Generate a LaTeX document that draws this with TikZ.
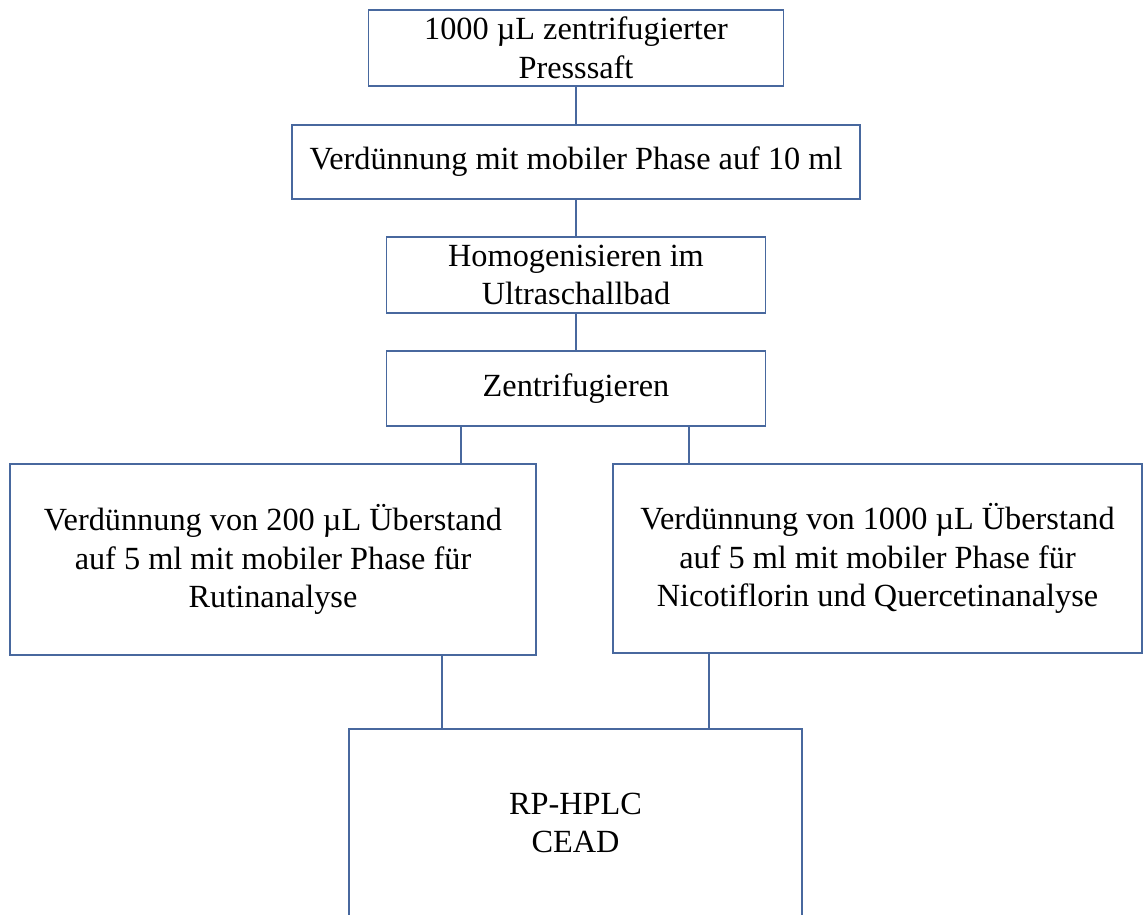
\documentclass[tikz,border=0pt]{standalone}
\usepackage{fontspec}
\setmainfont{Liberation Serif}
\definecolor{boxline}{RGB}{72,104,158}
\begin{document}
\begin{tikzpicture}[x=1pt,y=-1pt,
  stepbox/.style={draw=boxline, line width=1.1pt, align=center, inner sep=0pt,
    font=\fontsize{32.3}{38.5}\selectfont},
  link/.style={draw=boxline, line width=1.1pt}]
\useasboundingbox (0,0) rectangle (1143,914);
\clip (0,0) rectangle (1143,914);

% process steps
\node[stepbox, minimum width=415, minimum height=76] (a) at (576,48)
  {1000 µL zentrifugierter\\Presssaft};
\node[stepbox, minimum width=568, minimum height=74] (b) at (576,162)
  {Verdünnung mit mobiler Phase auf 10 ml};
\node[stepbox, minimum width=379, minimum height=76] (c) at (576,275)
  {Homogenisieren im\\Ultraschallbad};
\node[stepbox, minimum width=379, minimum height=75] (d) at (576,388.5)
  {Zentrifugieren};
\node[stepbox, minimum width=526, minimum height=191] (e) at (273,559.5)
  {Verdünnung von 200 µL Überstand\\auf 5 ml mit mobiler Phase für\\Rutinanalyse};
\node[stepbox, minimum width=529, minimum height=189] (f) at (877.5,558.5)
  {Verdünnung von 1000 µL Überstand\\auf 5 ml mit mobiler Phase für\\Nicotiflorin und Quercetinanalyse};
\node[stepbox, minimum width=453, minimum height=188] (g) at (575.5,823)
  {RP-HPLC\\CEAD};

% connectors
\draw[link] (a.south) -- (b.north);
\draw[link] (b.south) -- (c.north);
\draw[link] (c.south) -- (d.north);
\draw[link] ([xshift=-115pt]d.south) -- ([xshift=-115pt]d.south |- e.north);
\draw[link] ([xshift=113pt]d.south) -- ([xshift=113pt]d.south |- f.north);
\draw[link] ([xshift=-133.5pt]g.north |- e.south) -- ([xshift=-133.5pt]g.north);
\draw[link] ([xshift=-168.5pt]f.south) -- ([xshift=-168.5pt]f.south |- g.north);
\end{tikzpicture}
\end{document}
